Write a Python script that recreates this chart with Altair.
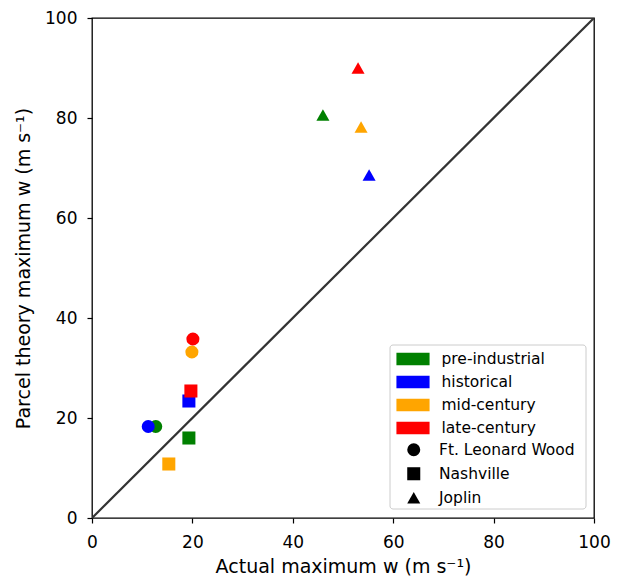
import altair as alt
import pandas as pd

periods = ["pre-industrial", "historical", "mid-century", "late-century"]
period_colors = ["#008000", "#0000ff", "#ffa500", "#ff0000"]
cities = ["Ft. Leonard Wood", "Nashville", "Joplin"]
city_shapes = ["circle", "square", "triangle-up"]

# per city, values in period order
flw_actual = [12.7, 11.2, 19.9, 20.1]
flw_parcel = [18.3, 18.3, 33.2, 35.8]
nash_actual = [19.3, 19.3, 15.3, 19.7]
nash_parcel = [16.0, 23.4, 10.8, 25.4]
jop_actual = [46.0, 55.2, 53.6, 53.0]
jop_parcel = [80.6, 68.6, 78.2, 90.0]

one_to_one = [0, 100]

rows = []
for pi, p in enumerate(periods):
    for c, xs, ys in [(cities[0], flw_actual, flw_parcel),
                      (cities[1], nash_actual, nash_parcel),
                      (cities[2], jop_actual, jop_parcel)]:
        rows.append({"period": p, "city": c, "actual": xs[pi], "parcel": ys[pi], "order": pi})
df = pd.DataFrame(rows)

line_df = pd.DataFrame({"x": one_to_one, "y": one_to_one})

xscale = alt.Scale(domain=[0, 100], nice=False, zero=False)
yscale = alt.Scale(domain=[0, 100], nice=False, zero=False)

axis_common = dict(
    values=[0, 20, 40, 60, 80, 100], grid=False, domain=False, labelFlush=False,
    tickColor="black", tickSize=5, tickWidth=1.2, labelFontSize=17,
    labelColor="black", titleFontSize=19, titleColor="black",
    titleFontWeight="normal", labelFont="DejaVu Sans", titleFont="DejaVu Sans",
)

line = alt.Chart(line_df).mark_line(color="#333333", strokeWidth=2.2, clip=True).encode(
    x=alt.X("x:Q", scale=xscale,
            axis=alt.Axis(title="Actual maximum w (m s\u207b\u00b9)", titlePadding=7,
                          labelPadding=11, **axis_common)),
    y=alt.Y("y:Q", scale=yscale,
            axis=alt.Axis(title="Parcel theory maximum w (m s\u207b\u00b9)", titlePadding=11,
                          labelPadding=10, **axis_common)),
)

points = alt.Chart(df).mark_point(filled=True, opacity=1, strokeWidth=0, size=170).encode(
    x=alt.X("actual:Q", scale=xscale),
    y=alt.Y("parcel:Q", scale=yscale),
    color=alt.Color("period:N", scale=alt.Scale(domain=periods, range=period_colors),
                    legend=alt.Legend(title=None, orient="none", legendX=308, legendY=328,
                                      symbolType="M-1.3,-0.5H1.3V0.5H-1.3Z", symbolSize=650,
                                      symbolStrokeWidth=0, labelFontSize=15.5, labelFont="DejaVu Sans",
                                      labelColor="black", rowPadding=1, labelOffset=15.5, padding=0)),
    shape=alt.Shape("city:N", scale=alt.Scale(domain=cities, range=city_shapes),
                    legend=alt.Legend(title=None, orient="none", legendX=314, legendY=424,
                                      symbolFillColor="black", symbolStrokeWidth=0, symbolSize=170,
                                      labelFontSize=15.5, labelFont="DejaVu Sans", labelColor="black",
                                      rowPadding=7, labelOffset=17.5, padding=0)),
    order=alt.Order("order:Q"),
)

box = alt.Chart(pd.DataFrame({"a": [0]})).mark_rect(
    fill="white", fillOpacity=0.8, stroke="#cccccc", strokeWidth=1, cornerRadius=3
).encode(x=alt.value(298), x2=alt.value(494), y=alt.value(327), y2=alt.value(491))

chart = alt.layer(line, box, points).properties(
    width=502, height=500,
    background="white",
    autosize=alt.AutoSizeParams(type="none"),
    padding={"left": 84, "top": 10, "right": 19, "bottom": 58},
).configure_view(stroke="black", strokeWidth=1.3)

chart.save("out.html", embed_options={"renderer": "svg", "actions": False})
